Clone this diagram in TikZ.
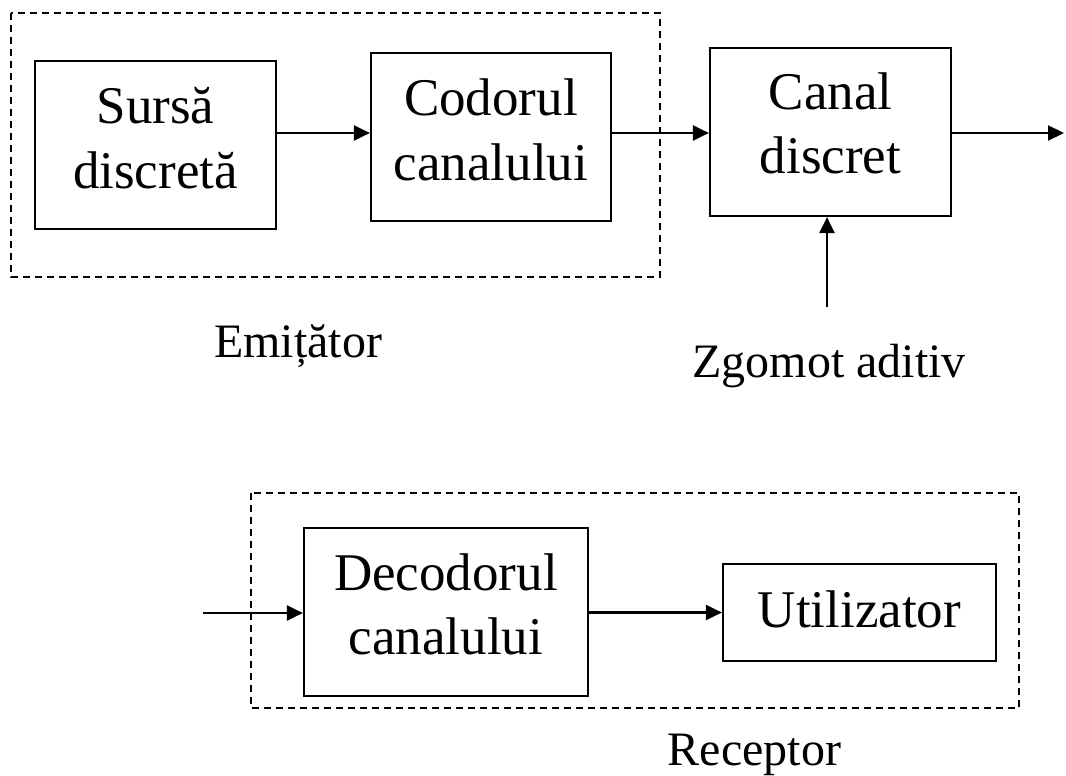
\documentclass[tikz,border=0pt]{standalone}
\usepackage{fontspec}
\setmainfont{Liberation Serif}
\usetikzlibrary{arrows.meta}
\begin{document}
\begin{tikzpicture}[x=1pt,y=1pt,
  blk/.style={draw,line width=2.2pt,rectangle,inner sep=0pt},
  btxt/.style={anchor=base,inner sep=0pt,font=\fontsize{53}{63}\selectfont},
  ltxt/.style={anchor=base,inner sep=0pt,font=\fontsize{48}{58}\selectfont},
  arr/.style={line width=2.2pt,-{Triangle[length=16pt,width=15pt]}},
  dashbox/.style={draw,line width=1.6pt,dash pattern=on 7pt off 5pt}]
\useasboundingbox (0,0) rectangle (1066,-776);
% dashed groups
\draw[dashbox] (11,-13) rectangle (660,-277);
\draw[dashbox] (251,-493) rectangle (1019,-708);
% blocks
\node[blk,minimum width=241pt,minimum height=168pt] (src) at (155.5,-145) {};
\node[blk,minimum width=240pt,minimum height=168pt] (cod) at (491,-137) {};
\node[blk,minimum width=241pt,minimum height=168pt] (can) at (830.5,-132) {};
\node[blk,minimum width=284pt,minimum height=168pt] (dec) at (446,-612) {};
\node[blk,minimum width=273pt,minimum height=97pt] (usr) at (859.5,-612.5) {};
% block texts
\node[btxt] (src1) at (155.5,-123) {Sursă};
\node[btxt] (src2) at (155.5,-188) {discretă};
\node[btxt] (cod1) at (491,-115) {Codorul};
\node[btxt] (cod2) at (491,-180) {canalului};
\node[btxt] (can1) at (830.5,-110) {Canal};
\node[btxt] (can2) at (830.5,-173) {discret};
\node[btxt] (dec1) at (446,-590) {Decodorul};
\node[btxt] (dec2) at (446,-654) {canalului};
\node[btxt] (usr1) at (859.5,-627) {Utilizator};
% labels
\node[ltxt] (emit) at (298,-357) {Emițător};
\node[ltxt] (zgom) at (829,-377) {Zgomot aditiv};
\node[ltxt] (recv) at (754.5,-765) {Receptor};
% free ends
\coordinate (out) at (1064,-133);
\coordinate (noise) at (827,-307);
\coordinate (inp) at (203,-613);
% connectors
\draw[arr] (src.east |- 0,-133) -- (cod.west |- 0,-133);
\draw[arr] (cod.east |- 0,-133) -- (can.west |- 0,-133);
\draw[arr] (can.east |- out) -- (out);
\draw[arr] (noise) -- (noise |- can.south);
\draw[arr] (inp) -- (dec.west |- inp);
\draw[arr] (dec.east |- usr.west) -- (usr.west);
\end{tikzpicture}
\end{document}
